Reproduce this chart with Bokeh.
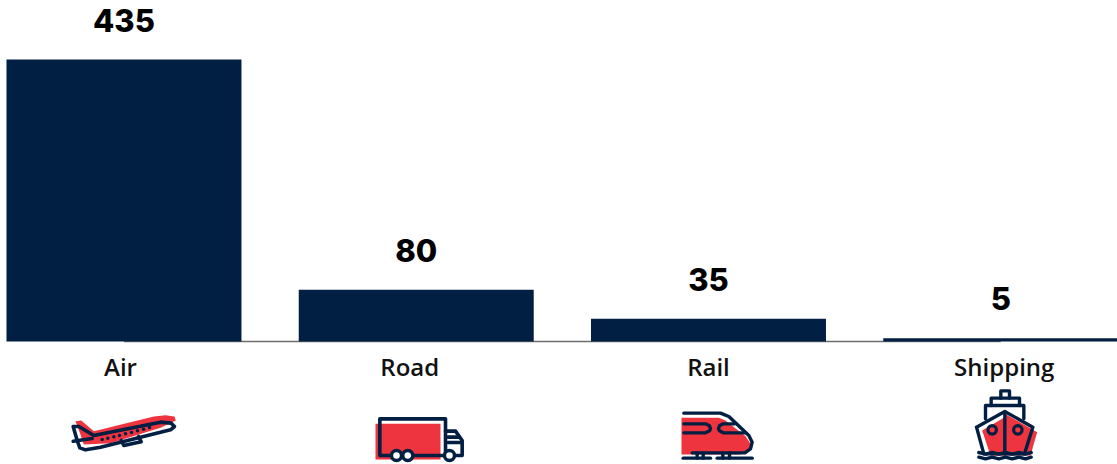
from bokeh.plotting import figure
from bokeh.models import Range1d
from bokeh.core.properties import value
from bokeh.embed import file_html
from bokeh.resources import INLINE

categories = ["Air", "Road", "Rail", "Shipping"]
values = [435, 80, 35, 5]
positions = [0, 1, 2, 3]
label_offsets = [-0.012, -0.022, 0.0, 0.012]

NAVY = "#001f42"
RED = "#ee343f"

# Icon drawings: (origin x, origin y) plus shapes in 1/3-pixel units
PLANE_ORIGIN = (50, 340)
PLANE_RED = [[(75, 242), (92, 240), (130, 272), (310, 228), (345, 224), (372, 228), (376, 240), (330, 262), (180, 308), (100, 312), (90, 282)]]
PLANE_LINES = [
    [(68, 258), (85, 258), (130, 285), (330, 245), (362, 248), (372, 258), (360, 268), (150, 320), (105, 328), (88, 322), (80, 300), (68, 258)],
    [(68, 302), (125, 294)],
    [(212, 300), (220, 315), (272, 304), (264, 288)],
]
PLANE_DOTS = [(155, 297), (172, 293), (190, 289), (207, 285), (225, 280), (243, 276), (261, 271), (279, 266), (297, 261)]

TRUCK_ORIGIN = (350, 340)
TRUCK_RED = [[(75, 250), (270, 250), (270, 357), (75, 357)]]
TRUCK_LINES = [
    [(125, 345), (88, 345), (88, 235), (285, 235), (285, 345), (185, 345)],
    [(285, 272), (315, 272), (335, 300), (335, 345), (315, 345)],
    [(292, 290), (325, 290)],
    [(292, 306), (332, 306)],
]
TRUCK_WHEELS = [(138, 345), (172, 345), (297, 345)]

TRAIN_ORIGIN = (650, 340)
TRAIN_RED = [[(93, 232), (205, 232), (225, 240), (285, 287), (300, 310), (298, 325), (270, 342), (93, 342)]]
TRAIN_LINES = [
    [(100, 218), (210, 218), (235, 228), (295, 285), (305, 305), (300, 325), (283, 337), (125, 337)],
    [(100, 250), (165, 250), (177, 256), (180, 264), (177, 271), (165, 277), (100, 277)],
    [(285, 277), (218, 277), (207, 271), (204, 264), (207, 256), (218, 250), (252, 250)],
    [(98, 353), (180, 353)],
    [(200, 353), (305, 353)],
    [(140, 337), (140, 353)],
    [(158, 337), (158, 353)],
    [(217, 337), (217, 353)],
    [(237, 337), (237, 353)],
]

SHIP_ORIGIN = (940, 340)
SHIP_RED = [[(197, 222), (290, 275), (270, 345), (150, 345), (125, 270), (190, 232)]]
SHIP_LINES = [
    [(108, 260), (193, 213), (277, 260), (252, 340), (130, 340), (108, 260)],
    [(193, 215), (193, 340)],
    [(135, 235), (135, 195), (250, 195), (250, 235)],
    [(152, 195), (152, 173), (237, 173), (237, 195)],
    [(181, 173), (181, 151), (207, 151), (207, 173)],
    [(115, 336), (135, 341), (155, 336), (175, 341), (195, 336), (215, 341), (235, 336), (255, 341), (272, 336)],
    [(115, 350), (135, 355), (155, 350), (175, 355), (195, 350), (215, 355), (235, 350), (255, 355), (272, 350)],
]
SHIP_PORTS = [(155, 268), (232, 268)]


def place(origin, shape):
    xs = [origin[0] + a / 3 for a, _ in shape]
    ys = [origin[1] + b / 3 for _, b in shape]
    return xs, ys


p = figure(width=1117, height=464, output_backend="svg", toolbar_location=None,
           x_range=Range1d(-0.4225, 3.3995), y_range=Range1d(-189.8, 526.2),
           min_border=0, min_border_left=0, min_border_right=0, min_border_top=0, min_border_bottom=0,
           outline_line_color=None, background_fill_color="white", border_fill_color="white")
p.xaxis.visible = False
p.yaxis.visible = False
p.grid.visible = False

p.extra_x_ranges["px"] = Range1d(0, 1117)
p.extra_y_ranges["px"] = Range1d(464, 0)

p.line(positions, [0, 0, 0, 0], line_color="#6e6e6e", line_width=1.5)
p.vbar(x=positions, top=values, bottom=0, width=0.804, fill_color=NAVY, line_color=None)

p.text(x=positions, y=[v + 61 for v in values], text=[str(v) for v in values],
       text_font=value("Inter ExtraBold"), text_font_size="31px",
       text_color="#000000", text_align="center", text_baseline="middle")

p.text(x=[a + b for a, b in zip(positions, label_offsets)], y=[-39] * 4, text=categories,
       text_font=value("Open Sans SemiBold"), text_font_size="24px",
       text_color="#111111", text_align="center", text_baseline="middle")

for origin, reds, lines, width in [
    (PLANE_ORIGIN, PLANE_RED, PLANE_LINES, 3.6),
    (TRUCK_ORIGIN, TRUCK_RED, TRUCK_LINES, 3.6),
    (TRAIN_ORIGIN, TRAIN_RED, TRAIN_LINES, 3.4),
    (SHIP_ORIGIN, SHIP_RED, SHIP_LINES, 3.4),
]:
    for shape in reds:
        xs, ys = place(origin, shape)
        p.patch(xs, ys, fill_color=RED, line_color=None, x_range_name="px", y_range_name="px")
    for shape in lines:
        xs, ys = place(origin, shape)
        p.line(xs, ys, line_color=NAVY, line_width=width, line_join="round", line_cap="round",
               x_range_name="px", y_range_name="px")

xs, ys = place(PLANE_ORIGIN, PLANE_DOTS)
p.scatter(xs, ys, marker="circle", size=3.5, fill_color=NAVY, line_color=None, x_range_name="px", y_range_name="px")
xs, ys = place(TRUCK_ORIGIN, TRUCK_WHEELS)
p.scatter(xs, ys, marker="circle", size=10, fill_color="white", line_color=NAVY, line_width=3.4, x_range_name="px", y_range_name="px")
xs, ys = place(SHIP_ORIGIN, SHIP_PORTS)
p.scatter(xs, ys, marker="circle", size=8.5, fill_color=None, line_color=NAVY, line_width=3.2, x_range_name="px", y_range_name="px")

open("out.html", "w").write(file_html(p, INLINE))
